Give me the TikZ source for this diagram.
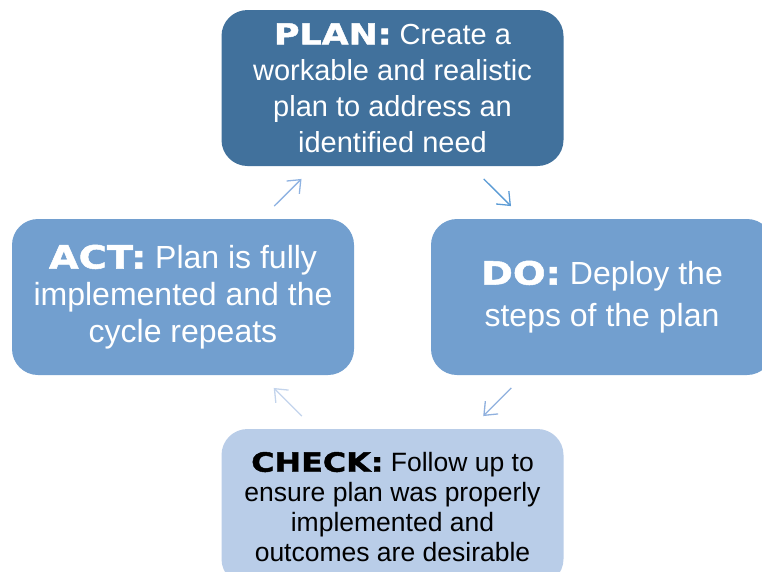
\documentclass[tikz,border=0pt]{standalone}
\usepackage{fontspec}
\setmainfont{Liberation Sans}
\newfontfamily\headfont{DejaVu Sans}[BoldFeatures={FakeBold=1.6, FakeStretch=1.2}]
\usetikzlibrary{arrows.meta}

\definecolor{plancol}{HTML}{41719C}
\definecolor{midcol}{HTML}{729FCF}
\definecolor{checkcol}{HTML}{B9CDE8}
\definecolor{arrowa}{HTML}{5B9BD5}
\definecolor{arrowb}{HTML}{8FB0DE}
\definecolor{arrowc}{HTML}{C3D4EC}
\definecolor{arrowd}{HTML}{8FB3E2}

\begin{document}
\begin{tikzpicture}[x=1pt, y=-1pt,
        stage/.style={rectangle, rounded corners=26pt, minimum width=342pt, minimum height=156pt, inner sep=0pt, align=center},
        cyc/.style={line width=1.3pt, -{Straight Barb[length=11pt, width=18pt, line width=1.3pt]}, shorten <=18pt, shorten >=18pt}]
        \useasboundingbox (0, 0) rectangle (762, 571);
        \clip (0, 0) rectangle (762, 571);
        % the four stages of the cycle
        \node[stage, fill=plancol, text=white, font=\fontsize{29}{36}\selectfont] (plan) at (392.5, 88) {{\headfont\bfseries PLAN:} Create a\\workable and realistic\\plan to address an\\identified need};
        \node[stage, fill=midcol, text=white, font=\fontsize{32}{37}\selectfont] (do) at (602, 297) {{\headfont\bfseries DO:} Deploy the\\[5pt]steps of the plan};
        \node[stage, fill=checkcol, text=black, font=\fontsize{26.5}{30}\selectfont] (check) at (392.5, 507) {{\headfont\bfseries CHECK:} Follow up to\\ensure plan was properly\\implemented and\\outcomes are desirable};
        \node[stage, fill=midcol, text=white, font=\fontsize{32}{37}\selectfont] (act) at (183, 297) {{\headfont\bfseries ACT:} Plan is fully\\implemented and the\\cycle repeats};
        % arrows between the stages
        \draw[cyc, draw=arrowa] (plan) -- (do);
        \draw[cyc, draw=arrowb] (do) -- (check);
        \draw[cyc, draw=arrowc] (check) -- (act);
        \draw[cyc, draw=arrowd] (act) -- (plan);
\end{tikzpicture}
\end{document}
